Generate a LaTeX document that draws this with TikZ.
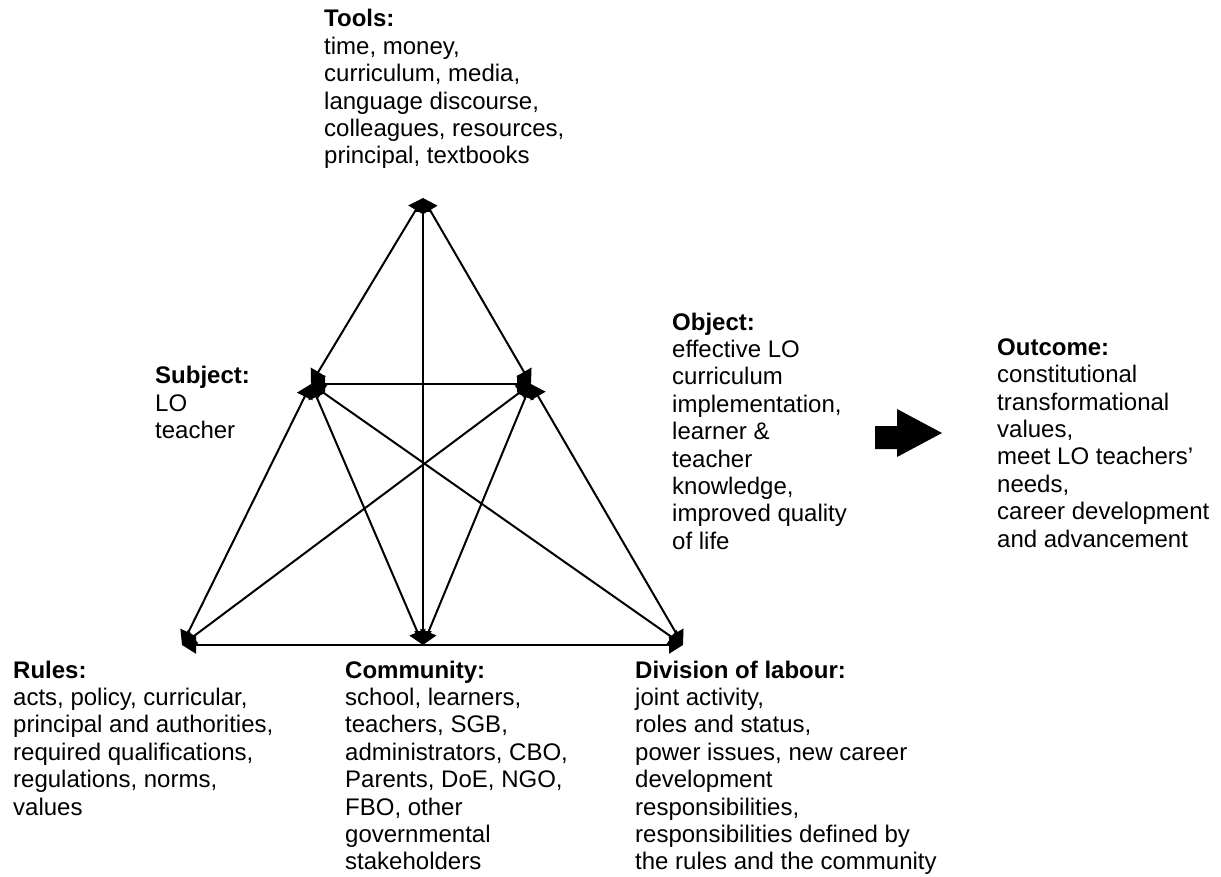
\documentclass[tikz,border=0pt]{standalone}
\usepackage{fontspec}
\setmainfont{Liberation Sans}
\usetikzlibrary{arrows.meta}

\begin{document}
\begin{tikzpicture}[x=1pt, y=-1pt,
    link/.style={line width=2pt, {Triangle[length=14pt,width=17pt]}-{Triangle[length=14pt,width=17pt]}},
    txt/.style={anchor=north west, inner sep=0pt, align=left, font=\fontsize{24}{27.4}\selectfont}]
  \useasboundingbox (0,0) rectangle (1221,877);

  % corners of the activity triangle
  \coordinate (vT) at (423,198);
  \coordinate (vS) at (311,384);
  \coordinate (vO) at (531,384);
  \coordinate (vR) at (182,645);
  \coordinate (vC) at (423,645);
  \coordinate (vD) at (683,645);

  % two-headed links
  \foreach \a/\b in {vT/vS, vT/vO, vT/vC, vS/vO, vS/vR, vS/vC, vS/vD, vO/vR, vO/vC, vO/vD, vR/vD} {
    \draw[link] (\a) -- (\b);
  }

  % labels
  \node[txt] (tools) at (324,7.5) {\strut\textbf{Tools:}\\ time, money,\\ curriculum, media,\\ language discourse,\\ colleagues, resources,\\ principal, textbooks};
  \node[txt] (subject) at (155,364.3) {\strut\textbf{Subject:}\\ LO\\ teacher};
  \node[txt] (object) at (672,310.8) {\strut\textbf{Object:}\\ effective LO\\ curriculum\\ implementation,\\ learner \&\\ teacher\\ knowledge,\\ improved quality\\ of life};
  \node[txt] (outcome) at (997,336) {\strut\textbf{Outcome:}\\ constitutional\\ transformational\\ values,\\ meet LO teachers'\\ needs,\\ career development\\ and advancement};
  \node[txt] (rules) at (13,658.8) {\strut\textbf{Rules:}\\ acts, policy, curricular,\\ principal and authorities,\\ required qualifications,\\ regulations, norms,\\ values};
  \node[txt] (community) at (345,658.8) {\strut\textbf{Community:}\\ school, learners,\\ teachers, SGB,\\ administrators, CBO,\\ Parents, DoE, NGO,\\ FBO, other\\ governmental\\ stakeholders};
  \node[txt] (division) at (635,658.8) {\strut\textbf{Division of labour:}\\ joint activity,\\ roles and status,\\ power issues, new career\\ development\\ responsibilities,\\ responsibilities defined by\\ the rules and the community};

  % block arrow towards the outcome
  \fill (875,426) -- (897,426) -- (897,409) -- (942,433) -- (897,457) -- (897,449) -- (875,449) -- cycle;
\end{tikzpicture}
\end{document}
